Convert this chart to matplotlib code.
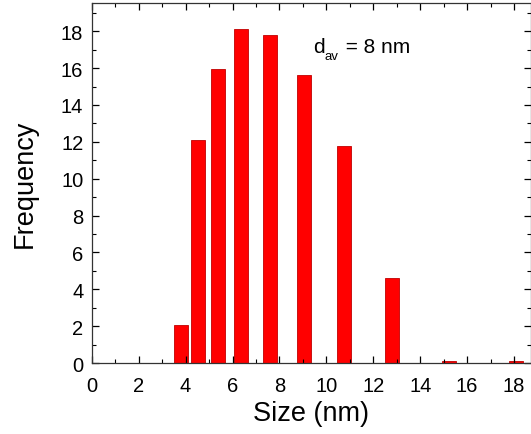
import matplotlib
matplotlib.use('Agg')
import matplotlib.pyplot as plt
from matplotlib.ticker import MultipleLocator
from matplotlib.transforms import offset_copy

plt.rcParams['font.family'] = ['Liberation Sans', 'DejaVu Sans']

# particle size histogram (nm)
sizes = [3.80, 4.53, 5.38, 6.36, 7.59, 9.04, 10.74, 12.79, 15.21, 18.07]
counts = [2.05, 12.1, 15.95, 18.1, 17.8, 15.65, 11.75, 4.6, 0.12, 0.12]
x_ticks = [0, 2, 4, 6, 8, 10, 12, 14, 16, 18]
y_ticks = [0, 2, 4, 6, 8, 10, 12, 14, 16, 18]

fig = plt.figure(figsize=(5.31, 4.35), dpi=100)
ax = fig.add_axes([0.1727, 0.1632, 0.8273, 0.8276])

ax.bar(sizes, counts, width=0.6, color='#ff0000', edgecolor='#c00000', linewidth=0.6)

ax.set_xlim(0, 18.72)
ax.set_ylim(0, 19.53)
ax.set_xticks(x_ticks)
ax.set_yticks(y_ticks)
ax.xaxis.set_minor_locator(MultipleLocator(1))
ax.yaxis.set_minor_locator(MultipleLocator(1))
ax.tick_params(which='both', direction='in', top=True, right=True, labelsize=14.5)
ax.tick_params(axis='x', pad=9)
ax.tick_params(axis='y', pad=6)
ax.tick_params(which='major', length=5, width=0.9)
ax.tick_params(which='minor', length=3, width=0.8)
for s in ax.spines.values():
    s.set_linewidth(0.9)
    s.set_color('#333333')

ax.set_xlabel('Size (nm)', fontsize=19.5, labelpad=4)
ax.set_ylabel('Frequency', fontsize=19.5, labelpad=17)

# d_av label built from pieces so the subscript sits low like the original
fig.canvas.draw()
r = fig.canvas.get_renderer()
tx, ty = 0.503, 0.863
t1 = ax.text(tx, ty, 'd', transform=ax.transAxes, fontsize=15, va='baseline')
w1 = t1.get_window_extent(r).width * 72 / fig.dpi
t2 = ax.text(tx, ty, 'av', fontsize=9.5, va='baseline',
             transform=offset_copy(ax.transAxes, fig, x=w1 + 0.5, y=-5, units='points'))
w2 = t2.get_window_extent(r).width * 72 / fig.dpi
ax.text(tx, ty, ' = 8 nm', fontsize=15, va='baseline',
        transform=offset_copy(ax.transAxes, fig, x=w1 + w2 + 1, y=0, units='points'))

fig.savefig('out.png', dpi=100, facecolor='white')
